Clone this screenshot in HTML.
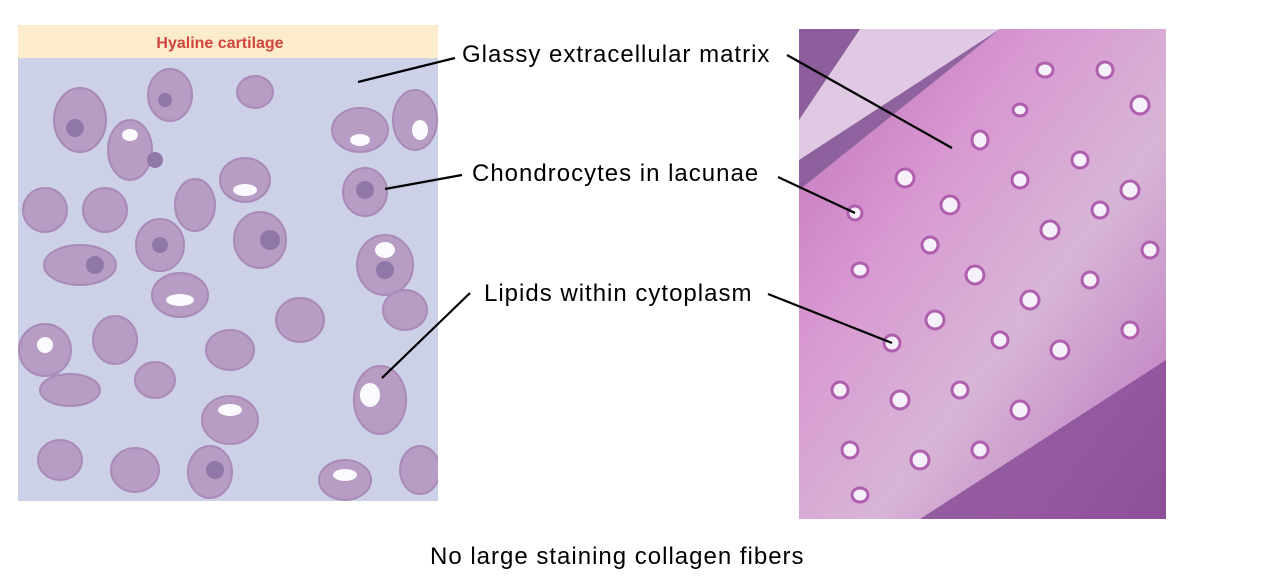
<!DOCTYPE html>
<html><head><meta charset="utf-8"><style>
html,body{margin:0;padding:0;background:#fff;}
body{width:1261px;height:586px;position:relative;overflow:hidden;font-family:"Liberation Sans",sans-serif;}
.lbl{position:absolute;font-size:24px;letter-spacing:1px;color:#000;white-space:nowrap;line-height:1;}
svg{position:absolute;left:0;top:0;}
</style></head><body>
<svg width="1261" height="586">
  <defs>
    <linearGradient id="rg" x1="0" y1="0" x2="1" y2="1">
      <stop offset="0" stop-color="#c070b8"/>
      <stop offset="0.35" stop-color="#d99ad2"/>
      <stop offset="0.6" stop-color="#d7b5d6"/>
      <stop offset="0.85" stop-color="#c58cc6"/>
      <stop offset="1" stop-color="#9a5aa0"/>
    </linearGradient>
    <clipPath id="lc"><rect x="18" y="58" width="420" height="443"/></clipPath>
    <clipPath id="rc"><rect x="799" y="29" width="367" height="490"/></clipPath>
  </defs>
  <g>
    <rect x="18" y="25" width="420" height="33" fill="#fdeccb"/>
    <text x="220" y="48" text-anchor="middle" font-family="Liberation Sans" font-weight="bold" font-size="16" fill="#d0463e">Hyaline cartilage</text>
    <rect x="18" y="58" width="420" height="443" fill="#cdd1e8"/>
    <g clip-path="url(#lc)" fill="#b79cc3" stroke="#a98ab8" stroke-width="2">
      <ellipse cx="80" cy="120" rx="26" ry="32"/><ellipse cx="170" cy="95" rx="22" ry="26"/>
      <ellipse cx="255" cy="92" rx="18" ry="16"/><ellipse cx="130" cy="150" rx="22" ry="30"/>
      <ellipse cx="360" cy="130" rx="28" ry="22"/><ellipse cx="415" cy="120" rx="22" ry="30"/>
      <ellipse cx="245" cy="180" rx="25" ry="22"/><ellipse cx="195" cy="205" rx="20" ry="26"/>
      <ellipse cx="365" cy="192" rx="22" ry="24"/><ellipse cx="45" cy="210" rx="22" ry="22"/>
      <ellipse cx="105" cy="210" rx="22" ry="22"/><ellipse cx="260" cy="240" rx="26" ry="28"/>
      <ellipse cx="160" cy="245" rx="24" ry="26"/><ellipse cx="80" cy="265" rx="36" ry="20"/>
      <ellipse cx="385" cy="265" rx="28" ry="30"/><ellipse cx="180" cy="295" rx="28" ry="22"/>
      <ellipse cx="300" cy="320" rx="24" ry="22"/><ellipse cx="405" cy="310" rx="22" ry="20"/>
      <ellipse cx="45" cy="350" rx="26" ry="26"/><ellipse cx="115" cy="340" rx="22" ry="24"/>
      <ellipse cx="230" cy="350" rx="24" ry="20"/><ellipse cx="155" cy="380" rx="20" ry="18"/>
      <ellipse cx="70" cy="390" rx="30" ry="16"/><ellipse cx="380" cy="400" rx="26" ry="34"/>
      <ellipse cx="230" cy="420" rx="28" ry="24"/><ellipse cx="135" cy="470" rx="24" ry="22"/>
      <ellipse cx="210" cy="472" rx="22" ry="26"/><ellipse cx="345" cy="480" rx="26" ry="20"/>
      <ellipse cx="420" cy="470" rx="20" ry="24"/><ellipse cx="60" cy="460" rx="22" ry="20"/>
    </g>
    <g clip-path="url(#lc)" fill="#fbfbff">
      <ellipse cx="130" cy="135" rx="8" ry="6"/><ellipse cx="360" cy="140" rx="10" ry="6"/>
      <ellipse cx="245" cy="190" rx="12" ry="6"/><ellipse cx="420" cy="130" rx="8" ry="10"/>
      <ellipse cx="385" cy="250" rx="10" ry="8"/><ellipse cx="180" cy="300" rx="14" ry="6"/>
      <ellipse cx="370" cy="395" rx="10" ry="12"/><ellipse cx="45" cy="345" rx="8" ry="8"/>
      <ellipse cx="230" cy="410" rx="12" ry="6"/><ellipse cx="345" cy="475" rx="12" ry="6"/>
    </g>
    <g clip-path="url(#lc)" fill="#8f78a8">
      <circle cx="75" cy="128" r="9"/><circle cx="165" cy="100" r="7"/><circle cx="155" cy="160" r="8"/>
      <circle cx="365" cy="190" r="9"/><circle cx="270" cy="240" r="10"/><circle cx="160" cy="245" r="8"/>
      <circle cx="95" cy="265" r="9"/><circle cx="385" cy="270" r="9"/><circle cx="215" cy="470" r="9"/>
    </g>
  </g>
  <g>
    <rect x="799" y="29" width="367" height="490" fill="url(#rg)"/>
    <g clip-path="url(#rc)">
      <polygon points="799,29 1000,29 799,190" fill="#7a5592" opacity="0.75"/>
      <polygon points="860,29 1000,29 799,160 799,120" fill="#f4e3f4" opacity="0.8"/>
      <polygon points="1166,360 1166,519 920,519" fill="#8a4e98" opacity="0.85"/>
      <g fill="#f6f0fa" stroke="#b05fae" stroke-width="3">
        <ellipse cx="1045" cy="70" rx="8" ry="7"/><ellipse cx="1105" cy="70" rx="8" ry="8"/>
        <ellipse cx="1020" cy="110" rx="7" ry="6"/><ellipse cx="980" cy="140" rx="8" ry="9"/>
        <ellipse cx="1140" cy="105" rx="9" ry="9"/><ellipse cx="950" cy="205" rx="9" ry="9"/>
        <ellipse cx="1020" cy="180" rx="8" ry="8"/><ellipse cx="1080" cy="160" rx="8" ry="8"/>
        <ellipse cx="855" cy="213" rx="7" ry="7"/><ellipse cx="905" cy="178" rx="9" ry="9"/>
        <ellipse cx="1130" cy="190" rx="9" ry="9"/><ellipse cx="930" cy="245" rx="8" ry="8"/>
        <ellipse cx="1050" cy="230" rx="9" ry="9"/><ellipse cx="1100" cy="210" rx="8" ry="8"/>
        <ellipse cx="860" cy="270" rx="8" ry="7"/><ellipse cx="975" cy="275" rx="9" ry="9"/>
        <ellipse cx="1030" cy="300" rx="9" ry="9"/><ellipse cx="1090" cy="280" rx="8" ry="8"/>
        <ellipse cx="892" cy="343" rx="8" ry="8"/><ellipse cx="935" cy="320" rx="9" ry="9"/>
        <ellipse cx="1000" cy="340" rx="8" ry="8"/><ellipse cx="1060" cy="350" rx="9" ry="9"/>
        <ellipse cx="1130" cy="330" rx="8" ry="8"/><ellipse cx="840" cy="390" rx="8" ry="8"/>
        <ellipse cx="900" cy="400" rx="9" ry="9"/><ellipse cx="960" cy="390" rx="8" ry="8"/>
        <ellipse cx="1020" cy="410" rx="9" ry="9"/><ellipse cx="850" cy="450" rx="8" ry="8"/>
        <ellipse cx="920" cy="460" rx="9" ry="9"/><ellipse cx="980" cy="450" rx="8" ry="8"/>
        <ellipse cx="860" cy="495" rx="8" ry="7"/><ellipse cx="1150" cy="250" rx="8" ry="8"/>
      </g>
    </g>
  </g>
  <g stroke="#000" stroke-width="2.2">
    <line x1="358" y1="82" x2="455" y2="58"/>
    <line x1="787" y1="55" x2="952" y2="148"/>
    <line x1="385" y1="189" x2="462" y2="175"/>
    <line x1="778" y1="177" x2="855" y2="213"/>
    <line x1="382" y1="378" x2="470" y2="293"/>
    <line x1="768" y1="294" x2="892" y2="343"/>
  </g>
</svg>
<div class="lbl" style="left:462px;top:43px">Glassy extracellular matrix</div>
<div class="lbl" style="left:472px;top:162px">Chondrocytes in lacunae</div>
<div class="lbl" style="left:484px;top:282px">Lipids within cytoplasm</div>
<div class="lbl" style="left:430px;top:545px">No large staining collagen fibers</div>
</body></html>
